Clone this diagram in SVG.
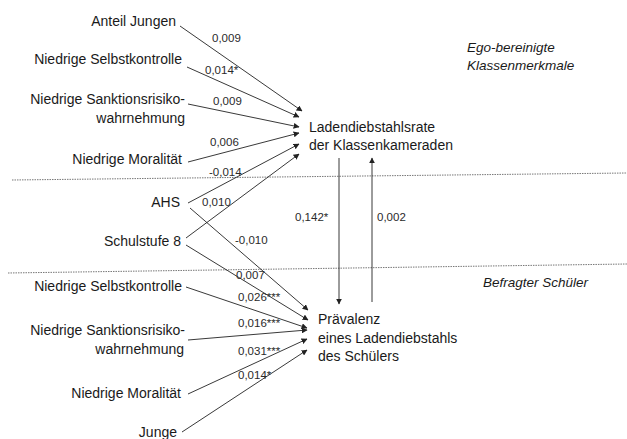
<svg xmlns="http://www.w3.org/2000/svg" width="627" height="439" viewBox="0 0 627 439">
<style>
.t{font-family:"Liberation Sans",Arial,sans-serif;font-size:14px;fill:#1a1a1a}
.r{text-anchor:end}
.i{font-style:italic;font-size:13.5px}
.e{font-family:"Liberation Sans",Arial,sans-serif;font-size:11.5px;fill:#2a2a2a}
.c{stroke:#222;stroke-width:0.9;fill:none;marker-end:url(#a)}
.d{stroke:#777;stroke-width:1;stroke-dasharray:1.5 1;fill:none}
</style>
<defs>
<marker id="a" viewBox="0 0 10 10" refX="9" refY="5" markerWidth="6" markerHeight="6" markerUnits="userSpaceOnUse" orient="auto">
<path d="M0,0 L10,5 L0,10 z" fill="#222"/>
</marker>
</defs>
<rect width="627" height="439" fill="#fff"/>
<g id="separators">
<line class="d" x1="12" y1="180" x2="627" y2="173"/>
<line class="d" x1="8" y1="273" x2="627" y2="264"/>
</g>
<g id="connectors">
<line class="c" x1="180" y1="26" x2="302" y2="111"/>
<line class="c" x1="187" y1="67" x2="299" y2="117"/>
<line class="c" x1="188" y1="104" x2="299" y2="127"/>
<line class="c" x1="188" y1="162" x2="299" y2="133"/>
<line class="c" x1="188" y1="203" x2="299" y2="144"/>
<line class="c" x1="186" y1="238" x2="299" y2="154"/>
<line class="c" x1="190" y1="208" x2="308" y2="310"/>
<line class="c" x1="186" y1="245" x2="308" y2="320"/>
<line class="c" x1="186" y1="287" x2="307" y2="328"/>
<line class="c" x1="188" y1="340" x2="307" y2="330"/>
<line class="c" x1="188" y1="394" x2="307" y2="339"/>
<line class="c" x1="182" y1="432" x2="307" y2="350"/>
<line class="c" x1="339" y1="158" x2="339" y2="304"/>
<line class="c" x1="372" y1="302" x2="372" y2="158"/>
</g>
<g id="edge-labels">
<text class="e" x="212" y="42">0,009</text>
<text class="e" x="205" y="74">0,014*</text>
<text class="e" x="213" y="105">0,009</text>
<text class="e" x="210" y="146">0,006</text>
<text class="e" x="209" y="176">-0,014</text>
<text class="e" x="202" y="206">0,010</text>
<text class="e" x="235" y="244">-0,010</text>
<text class="e" x="236" y="279">0,007</text>
<text class="e" x="238" y="301">0,026***</text>
<text class="e" x="238" y="327">0,016***</text>
<text class="e" x="238" y="355">0,031***</text>
<text class="e" x="238" y="379">0,014*</text>
<text class="e" x="295" y="221">0,142*</text>
<text class="e" x="377" y="221">0,002</text>
</g>
<g id="anteil-jungen"><text class="t r" x="176" y="26">Anteil Jungen</text></g>
<g id="selbstkontrolle-klasse"><text class="t r" x="182" y="64">Niedrige Selbstkontrolle</text></g>
<g id="sanktion-klasse"><text class="t r" x="185" y="104">Niedrige Sanktionsrisiko-</text><text class="t r" x="185" y="123">wahrnehmung</text></g>
<g id="moral-klasse"><text class="t r" x="182" y="164">Niedrige Moralität</text></g>
<g id="ahs"><text class="t r" x="180" y="207">AHS</text></g>
<g id="schulstufe"><text class="t r" x="181" y="246">Schulstufe 8</text></g>
<g id="selbstkontrolle-schueler"><text class="t r" x="182" y="291">Niedrige Selbstkontrolle</text></g>
<g id="sanktion-schueler"><text class="t r" x="185" y="335">Niedrige Sanktionsrisiko-</text><text class="t r" x="184" y="354">wahrnehmung</text></g>
<g id="moral-schueler"><text class="t r" x="181" y="398">Niedrige Moralität</text></g>
<g id="junge"><text class="t r" x="177" y="437">Junge</text></g>
<g id="ladendiebstahlsrate"><text class="t" x="309" y="132">Ladendiebstahlsrate</text><text class="t" x="309" y="150">der Klassenkameraden</text></g>
<g id="praevalenz"><text class="t" x="318" y="324">Prävalenz</text><text class="t" x="318" y="343">eines Ladendiebstahls</text><text class="t" x="318" y="361">des Schülers</text></g>
<g id="ego-label"><text class="t i" x="467" y="52">Ego-bereinigte</text><text class="t i" x="467" y="70">Klassenmerkmale</text></g>
<g id="befragter-label"><text class="t i" x="483" y="287">Befragter Schüler</text></g>
</svg>
